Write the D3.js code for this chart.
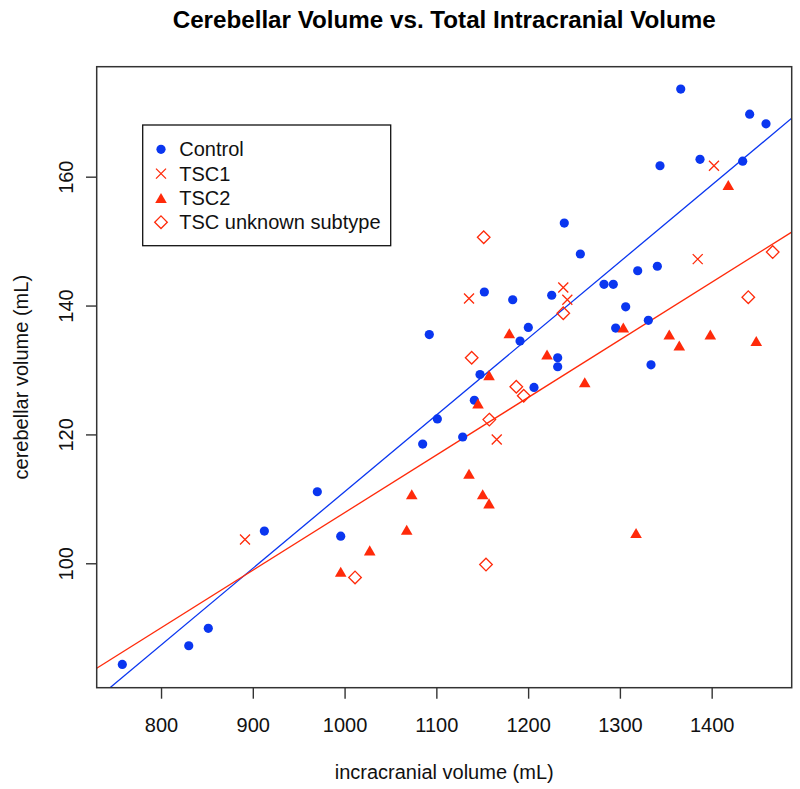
<!DOCTYPE html>
<html><head><meta charset="utf-8">
<script src="https://cdn.jsdelivr.net/npm/d3@7"></script>
<style>
body{margin:0;background:#fff}
text{font-family:"Liberation Sans",Arial,Helvetica,sans-serif}
</style>
</head><body>
<svg id="c" width="800" height="789"></svg>
<script>
// ---- data ----
const controlX = [757.8, 830.2, 851.5, 912.6, 970.3, 995.8, 1085.1, 1101.1, 1092.3, 1152.3, 1183.2, 1225.7, 1200.2, 1191.2, 1239.4, 1256.9, 1282.7, 1292.8, 1295.4, 1232.2, 1232.2, 1147.6, 1141.4, 1128.7, 1206.4, 1319.4, 1340.8, 1306.3, 1331.0, 1333.9, 1366.3, 1343.7, 1387.3, 1433.8, 1441.4, 1459.2];
const controlY = [84.3, 87.2, 89.9, 105.0, 111.1, 104.2, 118.5, 122.4, 135.5, 142.1, 140.9, 141.6, 136.6, 134.5, 152.8, 148.0, 143.3, 143.3, 136.5, 131.9, 130.5, 129.3, 125.3, 119.6, 127.3, 145.4, 146.1, 139.8, 137.7, 130.8, 173.6, 161.7, 162.7, 162.4, 169.7, 168.2];

const tsc1X = [891.5, 1135.6, 1238.3, 1242.7, 1165.8, 1384.8, 1402.5];
const tsc1Y = [103.7, 141.1, 142.8, 140.9, 119.2, 147.2, 161.7];

const tsc2X = [995.8, 1027.4, 1067.7, 1073.2, 1179.5, 1220.6, 1157.4, 1145.4, 1261.7, 1135.6, 1150.5, 1157.4, 1317.6, 1303.7, 1353.8, 1364.7, 1398.5, 1448.6, 1418.1];
const tsc2Y = [98.7, 102.0, 105.2, 110.7, 135.7, 132.4, 129.2, 124.8, 128.1, 113.9, 110.7, 109.3, 104.7, 136.6, 135.5, 133.8, 135.5, 134.5, 158.7];

const unknownX = [1011.4, 1154.1, 1151.6, 1138.5, 1238.3, 1187.1, 1195.2, 1157.7, 1439.9, 1466.5];
const unknownY = [97.8, 99.8, 150.6, 131.9, 138.8, 127.4, 126.0, 122.3, 141.3, 148.3];

// regression lines: [intercept, slope]
const fitControl = [-7.88, 0.11898];
const fitTSC = [18.45, 0.0894];

const xTicks = [800, 900, 1000, 1100, 1200, 1300, 1400];
const yTicks = [100, 120, 140, 160];
const legendLabels = ["Control", "TSC1", "TSC2", "TSC unknown subtype"];
const titleText = "Cerebellar Volume vs. Total Intracranial Volume";
const xLabel = "incracranial volume (mL)";
const yLabel = "cerebellar volume (mL)";

// ---- layout ----
const L = 96.7, R = 791.7, T = 66.7, B = 687.7;
const BLUE = "#0a36f0", RED = "#ff2a0a";

const svg = d3.select("#c");
const x = d3.scaleLinear().domain([729.9, 1487.2]).range([L, R]);
const y = d3.scaleLinear().domain([80.69, 177.07]).range([B, T]);

svg.append("defs").append("clipPath").attr("id", "clip")
  .append("rect").attr("x", L).attr("y", T).attr("width", R - L).attr("height", B - T);

// title
svg.append("text").attr("x", (L + R) / 2).attr("y", 28).attr("text-anchor", "middle")
  .attr("font-size", 24.2).attr("font-weight", "bold").attr("fill", "#000").text(titleText);

// axes
const xa = svg.append("g").attr("transform", `translate(0,${B})`)
  .call(d3.axisBottom(x).tickValues(xTicks).tickSize(11).tickFormat(d3.format("d")));
xa.select(".domain").remove();
xa.selectAll(".tick line").attr("stroke", "#333").attr("stroke-width", 1.4);
xa.selectAll(".tick text").attr("y", 44.5).attr("dy", null)
  .attr("font-size", 20).attr("fill", "#111").style("font-family", '"Liberation Sans",Arial,sans-serif');

const ya = svg.append("g").attr("transform", `translate(${L},0)`)
  .call(d3.axisLeft(y).tickValues(yTicks).tickSize(10.7).tickFormat(d3.format("d")));
ya.select(".domain").remove();
ya.selectAll(".tick line").attr("stroke", "#333").attr("stroke-width", 1.4);
ya.selectAll(".tick text").attr("x", null).attr("dy", null).attr("text-anchor", "middle")
  .attr("transform", "translate(-24,0) rotate(-90)")
  .attr("font-size", 20).attr("fill", "#111").style("font-family", '"Liberation Sans",Arial,sans-serif');

// axis titles
svg.append("text").attr("x", (L + R) / 2).attr("y", 779).attr("text-anchor", "middle")
  .attr("font-size", 20).attr("fill", "#111").text(xLabel);
svg.append("text").attr("transform", `translate(28,${(T + B) / 2}) rotate(-90)`)
  .attr("text-anchor", "middle").attr("font-size", 20).attr("fill", "#111").text(yLabel);

// regression lines
const plotG = svg.append("g").attr("clip-path", "url(#clip)");
[[fitControl, BLUE], [fitTSC, RED]].forEach(([f, col]) => {
  const xs = x.domain();
  plotG.append("line")
    .attr("x1", x(xs[0])).attr("y1", y(f[0] + f[1] * xs[0]))
    .attr("x2", x(xs[1])).attr("y2", y(f[0] + f[1] * xs[1]))
    .attr("stroke", col).attr("stroke-width", 1.3);
});

// marker shapes
const triR = 6.7, triXc = triR * Math.sqrt(3) / 2;
const triPath = `M0,${-0.75 * triR}L${triXc},${0.75 * triR}L${-triXc},${0.75 * triR}Z`;
const cr = 5.0;
const crossPath = `M${-cr},${-cr}L${cr},${cr}M${-cr},${cr}L${cr},${-cr}`;
const dm = 6.3;
const diamondPath = `M0,${-dm}L${dm},0L0,${dm}L${-dm},0Z`;
const circR = 4.6;

function drawCircles(g, xs, ys) {
  g.selectAll(null).data(xs.map((v, i) => [v, ys[i]])).enter().append("circle")
    .attr("cx", d => x(d[0])).attr("cy", d => y(d[1])).attr("r", circR).attr("fill", BLUE);
}
function drawPath(g, xs, ys, p, fill, stroke) {
  g.selectAll(null).data(xs.map((v, i) => [v, ys[i]])).enter().append("path")
    .attr("transform", d => `translate(${x(d[0])},${y(d[1])})`).attr("d", p)
    .attr("fill", fill).attr("stroke", stroke).attr("stroke-width", stroke === "none" ? 0 : 1.3);
}
const pts = svg.append("g");
drawCircles(pts, controlX, controlY);
drawPath(pts, tsc1X, tsc1Y, crossPath, "none", RED);
drawPath(pts, tsc2X, tsc2Y, triPath, RED, "none");
drawPath(pts, unknownX, unknownY, diamondPath, "none", RED);

// frame
svg.append("rect").attr("x", L).attr("y", T).attr("width", R - L).attr("height", B - T)
  .attr("fill", "none").attr("stroke", "#333").attr("stroke-width", 1.5);

// legend
const lg = svg.append("g");
lg.append("rect").attr("x", 142.7).attr("y", 125).attr("width", 248).attr("height", 120.7)
  .attr("fill", "#fff").attr("stroke", "#111").attr("stroke-width", 1.3);
const rowY = i => 149.3 + i * 24.3;
legendLabels.forEach((lab, i) => {
  const cy = rowY(i), cx = 161;
  if (i === 0) lg.append("circle").attr("cx", cx).attr("cy", cy).attr("r", circR).attr("fill", BLUE);
  if (i === 1) lg.append("path").attr("transform", `translate(${cx},${cy})`).attr("d", crossPath).attr("fill", "none").attr("stroke", RED).attr("stroke-width", 1.3);
  if (i === 2) lg.append("path").attr("transform", `translate(${cx},${cy})`).attr("d", triPath).attr("fill", RED);
  if (i === 3) lg.append("path").attr("transform", `translate(${cx},${cy})`).attr("d", diamondPath).attr("fill", "none").attr("stroke", RED).attr("stroke-width", 1.3);
  lg.append("text").attr("x", 179.3).attr("y", cy).attr("dy", "0.35em")
    .attr("font-size", 20).attr("fill", "#111").text(lab);
});
</script>
</body></html>
